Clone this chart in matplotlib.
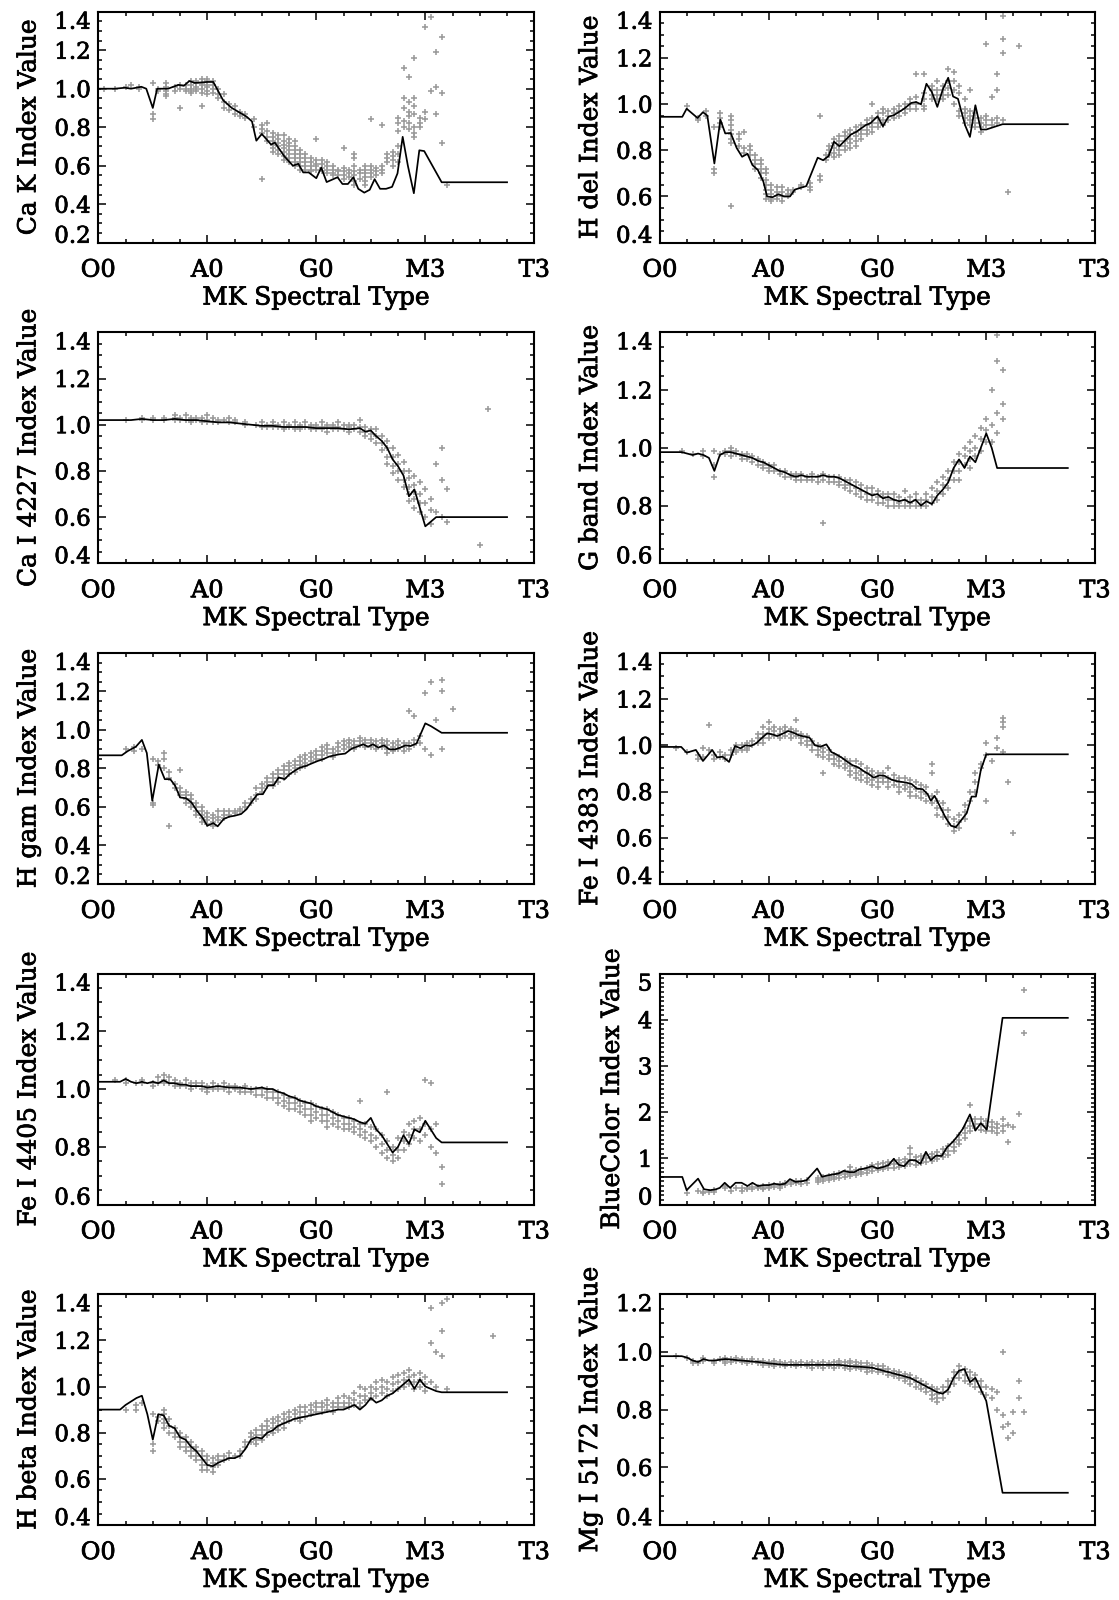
import matplotlib
matplotlib.use("Agg")
import matplotlib.pyplot as plt
import matplotlib.patheffects as pe
from matplotlib.ticker import MultipleLocator, FixedLocator

plt.rcParams['font.family'] = ['DejaVu Serif']

# ---------------- x axis (MK spectral type index) ----------------
xtick_vals = [0, 20, 40, 60, 80]
xtick_labels = ["O0", "A0", "G0", "M3", "T3"]

# ---------------- Ca K ----------------
cak_line = [(0, 1.0), (3, 1.0), (4.9, 1.005), (6, 1.0), (7.9, 1.01), (8.8, 1.0), (10, 0.90), (10.8, 1.0),
            (12.8, 1.0), (14.7, 1.02), (15.7, 1.015), (16.7, 1.04), (17.7, 1.03), (20, 1.035), (21.1, 1.035),
            (22.9, 0.94), (24.5, 0.90), (27.2, 0.855), (28.2, 0.83), (29, 0.73), (30, 0.765), (31.7, 0.71),
            (32.4, 0.72), (34.1, 0.65), (35.7, 0.60), (36.7, 0.61), (37.6, 0.565), (38.6, 0.565), (40, 0.535),
            (40.9, 0.59), (41.9, 0.515), (43.9, 0.54), (44.8, 0.505), (45.8, 0.505), (46.8, 0.54), (47.7, 0.48),
            (48.8, 0.46), (49.8, 0.475), (50.7, 0.53), (51.7, 0.48), (52.8, 0.48), (53.9, 0.49), (54.9, 0.56),
            (55.85, 0.75), (56.8, 0.60), (57.9, 0.457), (58.9, 0.68), (59.8, 0.676), (63, 0.514), (75, 0.514)]
cak_pts = {1: [1.0], 3: [1.0], 5: [1.01], 6: [1.02], 7.5: [1.01, 1.0], 10: [0.84, 0.87, 1.03],
           11: [1.0, 0.99], 12.5: [1.03, 1.01, 0.99, 0.97, 0.96], 14: [1.01, 0.99], 15: [1.02, 0.9, 1.0],
           16: [1.02, 1.0, 0.99], 17: [1.04, 1.02, 1.0, 0.99, 0.98], 18: [1.04, 1.03, 1.01, 1.0, 0.99],
           19: [1.05, 1.03, 1.02, 1.0, 0.98, 0.91], 20: [1.05, 1.04, 1.02, 1.01, 0.99, 0.97],
           21: [1.04, 1.02, 1.0, 0.98], 22: [1.0, 0.97, 0.95], 23: [0.97, 0.93, 0.9], 24: [0.92, 0.89],
           25: [0.91, 0.87], 26: [0.88, 0.86], 27: [0.87, 0.85], 28.5: [0.84, 0.8], 30: [0.81, 0.79, 0.77, 0.53],
           31: [0.82, 0.78, 0.75, 0.73], 32: [0.77, 0.75, 0.73, 0.71, 0.69, 0.67],
           33: [0.76, 0.74, 0.72, 0.7, 0.68, 0.66], 34: [0.76, 0.73, 0.71, 0.69, 0.67, 0.65, 0.63],
           35: [0.74, 0.72, 0.7, 0.68, 0.66, 0.64, 0.62], 36: [0.73, 0.7, 0.68, 0.66, 0.64, 0.62, 0.6],
           37: [0.68, 0.66, 0.64, 0.62, 0.6, 0.58], 38: [0.66, 0.64, 0.62, 0.6, 0.58],
           39: [0.64, 0.62, 0.6, 0.58, 0.57], 40: [0.74, 0.63, 0.61, 0.6, 0.58], 41: [0.63, 0.61, 0.59, 0.57],
           42: [0.62, 0.6, 0.58, 0.56], 43: [0.6, 0.58, 0.56, 0.55], 44: [0.58, 0.57, 0.55],
           45: [0.69, 0.59, 0.57, 0.55, 0.53], 46: [0.58, 0.56, 0.54], 47: [0.66, 0.64, 0.6, 0.57, 0.55, 0.52, 0.5],
           48: [0.58, 0.56, 0.53], 49: [0.6, 0.58, 0.56, 0.54, 0.52, 0.5], 50: [0.84, 0.6, 0.58, 0.56, 0.54],
           51: [0.59, 0.57, 0.55], 52: [0.81, 0.6, 0.58, 0.56], 53: [0.66, 0.64, 0.62], 54: [0.67, 0.65, 0.63, 0.6],
           55: [0.85, 0.82, 0.78, 0.7, 0.66, 0.62], 56: [1.11, 0.95, 0.9, 0.83, 0.8],
           57: [1.06, 0.93, 0.88, 0.86, 0.82, 0.79], 58: [1.16, 0.95, 0.91, 0.87, 0.8, 0.77, 0.75],
           59: [0.85, 0.82, 0.8], 60: [1.32, 0.88, 0.84], 61: [1.37, 0.99], 62: [1.19, 1.01, 0.87],
           63: [1.27, 0.98, 0.72], 64: [0.5]}
cak_yticks = [0.2, 0.4, 0.6, 0.8, 1.0, 1.2, 1.4]

# ---------------- H del ----------------
hdel_line = [(0, 0.945), (4.1, 0.945), (4.9, 0.98), (6.9, 0.94), (7.9, 0.965), (8.7, 0.95), (10, 0.743),
             (11.1, 0.933), (12, 0.873), (13, 0.875), (14.1, 0.81), (15.1, 0.772), (16.1, 0.785), (17, 0.736),
             (18, 0.715), (19, 0.665), (19.7, 0.60), (20.7, 0.597), (21.8, 0.61), (22.8, 0.60), (23.9, 0.60),
             (24.8, 0.63), (26.9, 0.645), (29, 0.768), (30, 0.757), (31, 0.775), (32, 0.837), (33, 0.818),
             (35.1, 0.868), (36.1, 0.88), (37.9, 0.91), (38.7, 0.917), (40, 0.947), (41, 0.904), (42, 0.945),
             (43, 0.952), (44.9, 0.98), (46.2, 1.005), (47.1, 1.009), (48, 0.999), (49, 1.088), (50, 1.052),
             (51, 0.988), (52, 1.063), (53, 1.114), (53.9, 1.033), (54.8, 1.023), (56.1, 0.909), (57, 0.858),
             (58, 0.995), (59, 0.89), (60, 0.89), (63, 0.913), (75, 0.913)]
hdel_pts = {5: [0.99], 7: [0.94, 0.93], 8.5: [0.97, 0.95], 10: [0.72, 0.7, 0.9], 11: [0.96, 0.94, 0.92, 0.9],
            13: [0.95, 0.93, 0.91, 0.89, 0.87, 0.85, 0.83, 0.56], 14.5: [0.87, 0.85, 0.82],
            15.5: [0.88, 0.81, 0.79], 16.5: [0.82, 0.8, 0.78], 17.5: [0.78, 0.76, 0.74, 0.72],
            18.5: [0.76, 0.74, 0.72, 0.7, 0.68], 19.5: [0.72, 0.7, 0.67, 0.65, 0.63, 0.61, 0.59],
            20.5: [0.65, 0.63, 0.61, 0.59, 0.58], 21.5: [0.64, 0.62, 0.6, 0.59], 22.5: [0.64, 0.62, 0.6, 0.58],
            23.5: [0.63, 0.61, 0.6], 24.5: [0.63, 0.62], 26: [0.65, 0.64], 27.5: [0.66, 0.64, 0.63],
            29.5: [0.69, 0.67, 0.95], 30.5: [0.78, 0.76], 31: [0.82, 0.8, 0.78], 32: [0.85, 0.83, 0.81, 0.79, 0.77],
            33: [0.86, 0.84, 0.82, 0.8, 0.78], 34: [0.88, 0.86, 0.84, 0.82, 0.8], 35: [0.89, 0.87, 0.85, 0.83, 0.81],
            36: [0.9, 0.88, 0.86, 0.84, 0.82], 37: [0.91, 0.89, 0.87, 0.85], 38: [0.93, 0.91, 0.89, 0.87],
            39: [1.0, 0.94, 0.92, 0.9, 0.88], 40: [0.96, 0.94, 0.92, 0.9], 41: [0.98, 0.96, 0.93, 0.91],
            42: [0.97, 0.95, 0.93], 43: [0.98, 0.96, 0.94], 44: [0.99, 0.97, 0.95], 45: [1.0, 0.98, 0.96],
            46: [1.02, 1.0, 0.98], 47: [1.13, 1.03, 1.0, 0.98], 48.5: [1.13, 1.05, 1.02, 0.99, 0.98],
            50: [1.08, 1.06, 1.04, 1.02], 51: [1.1, 1.06, 1.04, 1.02], 52: [1.08, 1.06, 1.04, 1.02],
            53: [1.15, 1.1, 1.07, 1.04], 54: [1.14, 1.1, 1.06, 1.0], 55: [1.08, 1.05, 0.97, 0.95],
            56: [1.02, 0.98, 0.96, 0.94, 0.92], 57: [1.06, 0.97, 0.95, 0.93, 0.91], 58: [0.96, 0.94, 0.92, 0.9],
            59: [0.94, 0.92, 0.9, 0.88], 60: [1.26, 0.95, 0.93, 0.91], 61: [1.03, 0.93, 0.91],
            62: [1.13, 1.06, 0.94, 0.92], 63: [1.38, 1.28, 1.22, 0.93], 64: [0.62], 66: [1.25]}
hdel_yticks = [0.4, 0.6, 0.8, 1.0, 1.2, 1.4]

# ---------------- Ca I 4227 ----------------
ca1_line = [(0, 1.02), (4, 1.02), (6, 1.02), (8, 1.025), (10, 1.02), (12, 1.02), (14, 1.025), (16, 1.02),
            (18, 1.02), (20, 1.015), (22, 1.01), (24, 1.01), (26, 1.005), (28, 1.0), (30, 0.995), (32, 0.995),
            (34, 0.99), (36, 0.99), (38, 0.99), (40, 0.985), (42, 0.985), (44, 0.985), (46, 0.98), (48, 0.985),
            (49, 0.97), (50, 0.975), (51, 0.95), (52, 0.93), (53, 0.9), (54, 0.85), (55, 0.82), (56, 0.78),
            (57, 0.69), (58, 0.72), (59, 0.64), (60, 0.56), (61, 0.58), (62, 0.6), (63, 0.6), (75, 0.6)]
ca1_pts = {5: [1.02], 8: [1.02, 1.03], 10: [1.03, 1.02], 12: [1.03, 1.02], 14: [1.04, 1.03, 1.02],
           15: [1.03, 1.02], 16: [1.04, 1.02], 17: [1.03, 1.02, 1.01], 18: [1.03, 1.02], 19: [1.03, 1.01],
           20: [1.04, 1.02, 1.01], 21: [1.03, 1.01], 22: [1.02, 1.01], 23: [1.02], 24: [1.03, 1.01],
           25: [1.02, 1.01], 27: [1.01, 1.0], 29: [1.0], 30: [1.01, 0.99], 31: [1.0, 0.99], 32: [1.01, 1.0, 0.99],
           33: [1.0, 0.99], 34: [1.01, 0.99, 0.98], 35: [1.0, 0.99], 36: [1.01, 0.99, 0.98], 37: [1.0, 0.99, 0.98],
           38: [1.01, 0.99], 39: [1.0, 0.99, 0.98], 40: [1.0, 0.99, 0.98], 41: [1.01, 0.99, 0.98],
           42: [1.0, 0.99, 0.97], 43: [1.0, 0.99, 0.98], 44: [1.01, 0.99, 0.98], 45: [1.0, 0.98],
           46: [1.0, 0.99, 0.97], 47: [1.0, 0.98], 48: [1.02, 0.99, 0.97], 49: [0.99, 0.97, 0.95],
           50: [0.98, 0.96, 0.94], 51: [0.98, 0.95, 0.92], 52: [0.95, 0.92, 0.89], 53: [0.93, 0.9, 0.86, 0.83],
           54: [0.9, 0.86, 0.82, 0.79], 55: [0.87, 0.83, 0.8, 0.76], 56: [0.84, 0.8, 0.76, 0.73],
           57: [0.8, 0.77, 0.73, 0.7, 0.67], 58: [0.78, 0.74, 0.71, 0.68, 0.64], 59: [0.75, 0.7, 0.66, 0.62],
           60: [0.72, 0.66, 0.6], 61: [0.68, 0.63, 0.57], 62: [0.83, 0.62], 63: [0.9, 0.76, 0.6],
           64: [0.72, 0.58], 70: [0.48], 71.5: [1.07]}
ca1_yticks = [0.4, 0.6, 0.8, 1.0, 1.2, 1.4]

# ---------------- G band ----------------
gband_line = [(0, 0.985), (4, 0.985), (5, 0.98), (6, 0.975), (7, 0.98), (8, 0.975), (9, 0.965), (10, 0.92),
              (11, 0.975), (12, 0.985), (13, 0.985), (14, 0.98), (15, 0.975), (16, 0.97), (17, 0.965),
              (18, 0.955), (19, 0.95), (20, 0.94), (21, 0.93), (22, 0.92), (23, 0.915), (24, 0.905), (25, 0.9),
              (26, 0.905), (27, 0.9), (28, 0.9), (29, 0.9), (30, 0.905), (31, 0.9), (32, 0.9), (33, 0.895),
              (34, 0.885), (35, 0.875), (36, 0.865), (37, 0.855), (38, 0.845), (39, 0.835), (40, 0.84),
              (41, 0.825), (42, 0.83), (43, 0.82), (44, 0.815), (45, 0.82), (46, 0.81), (47, 0.82), (48, 0.8),
              (49, 0.815), (50, 0.805), (51, 0.835), (52, 0.855), (53, 0.88), (54, 0.93), (55, 0.96), (56, 0.93),
              (57, 0.97), (58, 0.95), (59, 1.0), (60, 1.05), (61, 1.0), (62, 0.93), (63, 0.93), (75, 0.93)]
gband_pts = {4: [0.99], 6: [0.98], 8: [0.99, 0.97], 10: [0.9, 0.94, 0.99], 11: [0.98], 12: [0.98, 0.99],
             13: [1.0, 0.99, 0.97], 14: [0.99, 0.98], 15: [0.98, 0.97, 0.96], 16: [0.98, 0.96], 17: [0.97, 0.95],
             18: [0.96, 0.94], 19: [0.95, 0.94, 0.93], 20: [0.94, 0.93, 0.92], 21: [0.94, 0.92], 22: [0.92, 0.91],
             23: [0.92, 0.9], 24: [0.91, 0.9], 25: [0.91, 0.9, 0.89], 26: [0.91, 0.89], 27: [0.9, 0.89],
             28: [0.91, 0.89], 29: [0.9, 0.88], 30: [0.91, 0.89, 0.74], 31: [0.9, 0.88], 32: [0.9, 0.88],
             33: [0.9, 0.88, 0.87], 34: [0.89, 0.87, 0.86], 35: [0.89, 0.87, 0.85], 36: [0.88, 0.86, 0.84],
             37: [0.87, 0.85, 0.83], 38: [0.86, 0.84, 0.82], 39: [0.86, 0.84, 0.82], 40: [0.85, 0.83, 0.81],
             41: [0.84, 0.83, 0.81], 42: [0.84, 0.82, 0.8], 43: [0.84, 0.82, 0.8], 44: [0.83, 0.81, 0.8],
             45: [0.85, 0.82, 0.8], 46: [0.83, 0.81, 0.8], 47: [0.84, 0.82, 0.8], 48: [0.82, 0.8],
             49: [0.84, 0.82, 0.8], 50: [0.86, 0.83, 0.81], 51: [0.88, 0.85, 0.82], 52: [0.9, 0.87, 0.84],
             53: [0.92, 0.89, 0.86], 54: [0.95, 0.92, 0.89], 55: [0.98, 0.95, 0.92, 0.89], 56: [1.0, 0.97, 0.94],
             57: [1.02, 0.99, 0.96, 0.93], 58: [1.04, 1.0, 0.97], 59: [1.07, 1.03, 0.99], 60: [1.1, 1.06, 1.02],
             61: [1.2, 1.08, 1.02], 62: [1.39, 1.3, 1.12, 1.05], 63: [1.27, 1.15, 1.1]}
gband_yticks = [0.6, 0.8, 1.0, 1.2, 1.4]

# ---------------- H gam ----------------
hgam_line = [(0, 0.868), (4.3, 0.868), (5.4, 0.89), (6.9, 0.913), (8, 0.948), (8.9, 0.88), (9.9, 0.632),
             (11.1, 0.82), (12.2, 0.744), (13.2, 0.744), (14.1, 0.71), (15, 0.649), (16.1, 0.645), (17.1, 0.623),
             (18.1, 0.58), (19.1, 0.545), (20, 0.502), (21.1, 0.516), (21.9, 0.499), (23, 0.537), (24, 0.549),
             (25, 0.554), (26.2, 0.563), (27.2, 0.588), (28.3, 0.632), (29.2, 0.666), (30.2, 0.666), (31.2, 0.713),
             (32.2, 0.713), (33.1, 0.753), (34.2, 0.744), (35.1, 0.77), (36, 0.787), (37, 0.804), (38.1, 0.813),
             (39.1, 0.825), (40.3, 0.839), (41.2, 0.847), (42.3, 0.861), (43.3, 0.868), (44.2, 0.873),
             (45.3, 0.877), (46.5, 0.903), (47.5, 0.913), (48.6, 0.925), (49.5, 0.913), (50.4, 0.925),
             (51.4, 0.908), (52.4, 0.92), (53.4, 0.899), (54.5, 0.899), (55.4, 0.908), (56.4, 0.92),
             (57.3, 0.916), (58.4, 0.93), (60, 1.034), (61, 1.02), (63, 0.985), (75, 0.985)]
hgam_pts = {5: [0.9], 6.5: [0.91, 0.89], 8: [0.9], 10: [0.61, 0.62, 0.85], 11: [0.84, 0.82], 12: [0.88, 0.85, 0.8],
            13: [0.78, 0.75, 0.5], 14: [0.72, 0.7], 15: [0.79, 0.7, 0.68, 0.66], 16: [0.68, 0.66, 0.64, 0.62],
            17: [0.66, 0.64, 0.62, 0.6], 18: [0.62, 0.6, 0.58, 0.56], 19: [0.6, 0.58, 0.56, 0.54, 0.52],
            20: [0.57, 0.55, 0.53, 0.51], 21: [0.56, 0.54, 0.52, 0.5], 22: [0.58, 0.55, 0.53], 23: [0.58, 0.56, 0.54],
            24: [0.58, 0.56], 25: [0.58, 0.57], 26: [0.59, 0.58], 27: [0.62, 0.6], 28: [0.64, 0.62],
            29: [0.7, 0.66, 0.64], 30: [0.72, 0.7, 0.68], 31: [0.75, 0.73, 0.71], 32: [0.77, 0.75, 0.73, 0.71],
            33: [0.79, 0.77, 0.75, 0.73], 34: [0.81, 0.79, 0.77, 0.75], 35: [0.83, 0.81, 0.79, 0.77],
            36: [0.84, 0.82, 0.8, 0.78], 37: [0.86, 0.84, 0.82, 0.8], 38: [0.87, 0.85, 0.83, 0.81],
            39: [0.88, 0.86, 0.84], 40: [0.89, 0.87, 0.85], 41: [0.91, 0.89, 0.87, 0.85], 42: [0.92, 0.9, 0.88],
            43: [0.9, 0.88, 0.86], 44: [0.93, 0.91, 0.89], 45: [0.94, 0.92, 0.9], 46: [0.95, 0.93, 0.91],
            47: [0.94, 0.92, 0.9], 48: [0.96, 0.94, 0.92], 49: [0.95, 0.93, 0.91], 50: [0.95, 0.93, 0.91],
            51: [0.94, 0.92, 0.9], 52: [0.95, 0.93, 0.91], 53: [0.94, 0.92, 0.9, 0.88], 54: [0.93, 0.91, 0.89],
            55: [0.94, 0.92, 0.9], 56: [0.93, 0.91, 0.89], 57: [1.1, 0.93, 0.9], 58: [1.07, 0.95, 0.92],
            59: [0.97, 0.93], 60: [1.19, 0.9], 61: [1.25, 0.87], 62: [1.05], 63: [1.26, 1.2, 0.9], 65: [1.11]}
hgam_yticks = [0.2, 0.4, 0.6, 0.8, 1.0, 1.2, 1.4]

# ---------------- Fe I 4383 ----------------
fe4383_line = [(0, 0.993), (3.9, 0.993), (4.9, 0.968), (6.6, 0.98), (7.9, 0.932), (9.6, 0.98), (10.5, 0.947),
               (11.5, 0.951), (12.7, 0.928), (13.8, 0.997), (14.8, 0.987), (15.7, 1.0), (16.7, 0.997),
               (17.7, 1.009), (18.8, 1.033), (19.7, 1.052), (20.7, 1.047), (21.6, 1.04), (22.7, 1.052),
               (23.6, 1.062), (24.5, 1.055), (25.6, 1.043), (27.5, 1.033), (28.5, 1.0), (29.5, 0.994),
               (30.6, 1.004), (31.5, 0.971), (32.4, 0.961), (33.4, 0.947), (34.5, 0.928), (35.4, 0.914),
               (36.5, 0.904), (37.4, 0.889), (38.4, 0.875), (39.3, 0.86), (40.4, 0.87), (41.3, 0.868),
               (42.4, 0.853), (43.3, 0.846), (44.3, 0.842), (45.2, 0.839), (46.3, 0.832), (47.2, 0.813),
               (48.3, 0.81), (49.2, 0.789), (49.8, 0.76), (50.5, 0.781), (51.5, 0.735), (52.5, 0.688),
               (53.5, 0.652), (54.4, 0.645), (55.3, 0.673), (56.4, 0.706), (57.3, 0.778), (58.1, 0.778),
               (59, 0.893), (60, 0.961), (75, 0.961)]
fe4383_pts = {3: [0.99], 5: [0.97], 7: [0.96, 0.94], 8: [0.99, 0.95], 9: [1.09, 0.98], 10: [0.96, 0.94],
              11: [0.97, 0.95], 12: [0.96, 0.94], 13: [0.98, 0.96], 14: [1.0, 0.98, 0.97], 15: [1.0, 0.98],
              16: [1.01, 0.99, 0.98], 17: [1.02, 1.0], 18: [1.05, 1.03, 1.01], 19: [1.08, 1.05, 1.03, 1.01],
              20: [1.1, 1.07, 1.05, 1.03], 21: [1.08, 1.06, 1.04], 22: [1.07, 1.05, 1.03], 23: [1.08, 1.06, 1.04],
              24: [1.07, 1.05, 1.03], 25: [1.11, 1.06, 1.04], 26: [1.05, 1.03, 1.01], 27: [1.04, 1.02, 1.0],
              28: [1.02, 1.0, 0.98], 29: [1.0, 0.98, 0.96], 30: [0.99, 0.97, 0.95, 0.88], 31: [0.98, 0.96, 0.94],
              32: [0.96, 0.94, 0.92], 33: [0.95, 0.93, 0.91], 34: [0.94, 0.92, 0.9], 35: [0.93, 0.91, 0.89, 0.87],
              36: [0.93, 0.9, 0.88, 0.86], 37: [0.92, 0.89, 0.87, 0.85], 38: [0.9, 0.88, 0.86, 0.84],
              39: [0.89, 0.87, 0.85, 0.83], 40: [0.88, 0.86, 0.84, 0.82], 41: [0.88, 0.86, 0.84],
              42: [0.9, 0.86, 0.84, 0.82], 43: [0.87, 0.85, 0.83], 44: [0.86, 0.84, 0.82, 0.8], 45: [0.86, 0.83, 0.81],
              46: [0.85, 0.82, 0.8, 0.78], 47: [0.84, 0.81, 0.78], 48: [0.83, 0.8, 0.77], 49: [0.82, 0.79, 0.76],
              50: [0.92, 0.88, 0.78, 0.75], 51: [0.8, 0.76, 0.73, 0.7], 52: [0.75, 0.72, 0.69], 53: [0.72, 0.69, 0.66],
              54: [0.68, 0.65, 0.63], 55: [0.7, 0.67, 0.64], 56: [0.74, 0.71, 0.68], 57: [0.8, 0.76],
              58: [0.88, 0.84, 0.8], 59: [0.92, 0.9], 60: [1.01, 0.96, 0.76], 61: [0.93], 62: [1.03, 0.99],
              63: [1.12, 1.1, 1.08, 0.97], 64: [0.84], 65: [0.62]}
fe4383_yticks = [0.4, 0.6, 0.8, 1.0, 1.2, 1.4]

# ---------------- Fe I 4405 ----------------
fe4405_line = [(0, 1.025), (4, 1.025), (5, 1.035), (6, 1.025), (7, 1.02), (8, 1.025), (9, 1.02), (10, 1.025),
               (11, 1.02), (12, 1.03), (13, 1.02), (14, 1.02), (15, 1.015), (16, 1.015), (17, 1.01), (18, 1.01),
               (19, 1.01), (20, 1.005), (22, 1.01), (24, 1.005), (26, 1.005), (28, 1.0), (30, 1.005), (31, 1.0),
               (32, 1.0), (33, 0.99), (34, 0.985), (35, 0.975), (36, 0.97), (37, 0.96), (38, 0.955), (39, 0.95),
               (40, 0.94), (41, 0.935), (42, 0.93), (43, 0.92), (44, 0.91), (45, 0.905), (46, 0.9), (47, 0.895),
               (48, 0.885), (49, 0.88), (50, 0.9), (51, 0.86), (52, 0.84), (53, 0.81), (54, 0.78), (55, 0.8),
               (56, 0.84), (57, 0.81), (58, 0.86), (59, 0.85), (60, 0.89), (61, 0.86), (62, 0.83), (63, 0.815),
               (75, 0.815)]
fe4405_pts = {3: [1.03], 5: [1.03, 1.02], 7: [1.02], 8: [1.03, 1.02], 10: [1.02, 1.01], 11: [1.04, 1.02],
              12: [1.05, 1.03, 1.02], 13: [1.04, 1.02], 14: [1.03, 1.02, 1.01], 15: [1.02, 1.01], 16: [1.03, 1.01],
              17: [1.02, 1.01, 1.0], 18: [1.02, 1.01], 19: [1.02, 1.0], 20: [1.01, 1.0, 0.99], 21: [1.02, 1.0],
              22: [1.01, 1.0], 23: [1.02, 1.0], 24: [1.01, 0.99], 25: [1.01, 1.0], 26: [1.0, 0.99], 27: [1.01, 0.99],
              28: [1.0, 0.99], 29: [1.0, 0.98], 30: [1.0, 0.98], 31: [1.0, 0.99, 0.97], 32: [0.99, 0.97],
              33: [0.99, 0.97, 0.95], 34: [0.98, 0.96, 0.94], 35: [0.97, 0.95, 0.93], 36: [0.97, 0.95, 0.93],
              37: [0.96, 0.94, 0.92], 38: [0.95, 0.93, 0.91], 39: [0.95, 0.93, 0.91, 0.89], 40: [0.94, 0.92, 0.9],
              41: [0.93, 0.91, 0.89], 42: [0.93, 0.91, 0.89, 0.87], 43: [0.92, 0.9, 0.88], 44: [0.91, 0.89, 0.87],
              45: [0.9, 0.88, 0.86], 46: [0.9, 0.88, 0.86], 47: [0.89, 0.87, 0.85], 48: [0.96, 0.88, 0.86, 0.84],
              49: [0.88, 0.85, 0.83], 50: [0.87, 0.84, 0.82], 51: [0.86, 0.83, 0.8], 52: [0.84, 0.81, 0.78],
              53: [0.99, 0.82, 0.79, 0.76], 54: [0.8, 0.77, 0.75], 55: [0.83, 0.79, 0.76], 56: [0.85, 0.82, 0.79],
              57: [0.88, 0.84, 0.81], 58: [0.89, 0.86, 0.83], 59: [0.9, 0.86, 0.82], 60: [1.03, 0.88, 0.84],
              61: [1.02, 0.86, 0.8], 62: [0.88, 0.78], 63: [0.73, 0.67]}
fe4405_yticks = [0.6, 0.8, 1.0, 1.2, 1.4]

# ---------------- BlueColor ----------------
blue_line = [(0, 0.596), (4.1, 0.596), (4.9, 0.31), (7, 0.56), (8.1, 0.33), (9.2, 0.31), (10.3, 0.33), (11, 0.36),
             (11.9, 0.47), (12.9, 0.36), (13.9, 0.47), (15, 0.47), (16.1, 0.4), (17, 0.47), (18, 0.4), (19, 0.42),
             (20, 0.42), (21, 0.45), (22, 0.43), (23, 0.45), (23.9, 0.55), (24.9, 0.49), (25.9, 0.5), (26.9, 0.52),
             (28.9, 0.78), (29.8, 0.6), (30.8, 0.63), (31.8, 0.65), (32.8, 0.67), (33.8, 0.73), (34.8, 0.7),
             (35.7, 0.7), (36.7, 0.76), (37.7, 0.78), (39, 0.83), (40, 0.78), (41, 0.81), (42, 0.85), (43, 0.99),
             (43.9, 0.86), (44.9, 0.83), (45.9, 0.96), (46.9, 0.96), (47.9, 0.88), (48.9, 1.14), (49.8, 0.96),
             (50.8, 1.06), (51.8, 1.05), (52.8, 1.24), (53.8, 1.35), (54.8, 1.49), (55.7, 1.64), (57, 1.95),
             (58, 1.6), (59, 1.76), (60.1, 1.62), (63, 4.04), (75, 4.04)]
blue_pts = {5: [0.25], 7: [0.3], 8: [0.28, 0.25], 9: [0.26], 10: [0.28, 0.32], 12: [0.35, 0.4], 13: [0.3],
            14: [0.35], 15: [0.35, 0.3], 16: [0.36, 0.33], 17: [0.38, 0.34], 18: [0.38, 0.35], 19: [0.4, 0.36, 0.33],
            20: [0.42, 0.38, 0.35], 21: [0.42, 0.38], 22: [0.44, 0.4, 0.36], 23: [0.46, 0.42], 24: [0.48, 0.44],
            25: [0.5, 0.46], 26: [0.5, 0.45], 27: [0.52, 0.47], 29: [0.58, 0.52, 0.48], 30: [0.6, 0.55, 0.5],
            31: [0.62, 0.57, 0.52], 32: [0.66, 0.6, 0.55], 33: [0.68, 0.63, 0.58], 34: [0.7, 0.65, 0.6],
            35: [0.82, 0.72, 0.67, 0.62], 36: [0.74, 0.69, 0.64], 37: [0.77, 0.71, 0.66], 38: [0.8, 0.74, 0.68],
            39: [0.85, 0.78, 0.72], 40: [0.88, 0.8, 0.74], 41: [0.9, 0.82, 0.76], 42: [0.92, 0.85, 0.78],
            43: [0.94, 0.87, 0.8], 44: [0.96, 0.89, 0.82], 45: [0.99, 0.91, 0.84], 46: [1.22, 1.1, 0.96, 0.88],
            47: [1.02, 0.95, 0.86], 48: [1.05, 0.97, 0.9], 49: [1.08, 1.0, 0.92], 50: [1.1, 1.02, 0.95],
            51: [1.14, 1.06, 0.98], 52: [1.2, 1.1, 1.02], 53: [1.26, 1.16, 1.08], 54: [1.35, 1.25, 1.15],
            55: [1.5, 1.4, 1.3], 56: [1.65, 1.55, 1.45], 57: [2.16, 1.8, 1.7, 1.6], 58: [1.85, 1.75, 1.65],
            59: [1.85, 1.75, 1.62], 60: [1.8, 1.7, 1.6], 61: [1.78, 1.68, 1.6], 62: [1.75, 1.65, 1.55],
            63: [1.85, 1.7, 1.6], 64: [1.35, 1.72], 65: [1.68], 66: [1.96], 67: [4.64, 3.72]}
blue_yticks = [0, 1, 2, 3, 4, 5]

# ---------------- H beta ----------------
hbeta_line = [(0, 0.9), (4, 0.9), (5, 0.92), (6, 0.935), (7, 0.95), (8, 0.96), (9, 0.88), (10, 0.77), (11, 0.88),
              (12, 0.875), (13, 0.83), (14, 0.82), (15, 0.78), (16, 0.77), (17, 0.74), (18, 0.72), (19, 0.69),
              (20, 0.66), (21, 0.655), (22, 0.67), (23, 0.68), (24, 0.69), (25, 0.69), (26, 0.7), (27, 0.73),
              (28, 0.77), (29, 0.78), (30, 0.775), (31, 0.8), (32, 0.81), (33, 0.83), (34, 0.84), (35, 0.85),
              (36, 0.86), (37, 0.865), (38, 0.87), (39, 0.875), (40, 0.88), (41, 0.885), (42, 0.89), (43, 0.895),
              (44, 0.9), (45, 0.9), (46, 0.91), (47, 0.92), (48, 0.9), (49, 0.92), (50, 0.95), (51, 0.93),
              (52, 0.94), (53, 0.96), (54, 0.97), (55, 0.99), (56, 1.01), (57, 1.03), (58, 0.99), (59, 1.03),
              (60, 1.0), (61, 0.99), (62, 0.98), (63, 0.975), (75, 0.975)]
hbeta_pts = {5: [0.9], 7: [0.92, 0.9], 8: [0.93], 10: [0.72, 0.75, 0.88], 11: [0.87, 0.85],
             12: [0.9, 0.88, 0.86, 0.84, 0.82], 13: [0.86, 0.83, 0.8], 14: [0.82, 0.8, 0.78],
             15: [0.8, 0.78, 0.76, 0.74], 16: [0.78, 0.76, 0.74, 0.72], 17: [0.76, 0.74, 0.72, 0.7],
             18: [0.74, 0.72, 0.7, 0.68], 19: [0.72, 0.7, 0.68, 0.66, 0.64], 20: [0.7, 0.68, 0.66, 0.64],
             21: [0.69, 0.67, 0.65, 0.63], 22: [0.7, 0.68, 0.66], 23: [0.7, 0.68], 24: [0.71, 0.69], 25: [0.7],
             26: [0.72, 0.7], 27: [0.76, 0.74], 28: [0.8, 0.78, 0.76], 29: [0.81, 0.79, 0.77, 0.75],
             30: [0.83, 0.81, 0.79, 0.77], 31: [0.85, 0.83, 0.81, 0.79], 32: [0.86, 0.84, 0.82, 0.8],
             33: [0.87, 0.85, 0.83, 0.81], 34: [0.88, 0.86, 0.84, 0.82], 35: [0.89, 0.87, 0.85], 36: [0.9, 0.88, 0.86],
             37: [0.91, 0.89, 0.87, 0.85], 38: [0.91, 0.89, 0.87], 39: [0.92, 0.9, 0.88], 40: [0.93, 0.91, 0.89],
             41: [0.93, 0.91, 0.89], 42: [0.94, 0.92, 0.9], 43: [0.93, 0.91, 0.89], 44: [0.95, 0.93, 0.91],
             45: [0.96, 0.93, 0.91], 46: [0.95, 0.93, 0.91], 47: [0.97, 0.94, 0.92], 48: [1.0, 0.96, 0.93, 0.91],
             49: [0.99, 0.96, 0.94], 50: [1.0, 0.97, 0.95], 51: [1.02, 0.99, 0.96], 52: [1.03, 1.0, 0.97],
             53: [1.02, 0.99, 0.96], 54: [1.04, 1.01, 0.98], 55: [1.05, 1.02, 0.99], 56: [1.06, 1.03, 1.0],
             57: [1.07, 1.04, 1.01], 58: [1.05, 1.02, 0.99], 59: [1.06, 1.03, 1.0], 60: [1.04, 1.01, 0.98],
             61: [1.34, 1.19, 1.02], 62: [1.15, 1.0], 63: [1.36, 1.24, 1.13], 64: [1.38, 0.99], 72.5: [1.22]}
hbeta_yticks = [0.4, 0.6, 0.8, 1.0, 1.2, 1.4]

# ---------------- Mg I 5172 ----------------
mg_line = [(0, 0.985), (4, 0.985), (5, 0.98), (6, 0.97), (7, 0.965), (8, 0.975), (9, 0.97), (10, 0.97),
           (12, 0.975), (15, 0.97), (18, 0.965), (20, 0.96), (23, 0.955), (25, 0.955), (28, 0.955), (30, 0.955),
           (33, 0.955), (35, 0.95), (37, 0.948), (39, 0.945), (40, 0.94), (41, 0.935), (42, 0.93), (43, 0.925),
           (44, 0.92), (45, 0.915), (46, 0.91), (47, 0.9), (48, 0.89), (49, 0.88), (50, 0.87), (51, 0.86),
           (52, 0.855), (53, 0.87), (54, 0.91), (55, 0.935), (56, 0.94), (57, 0.895), (58, 0.91), (59, 0.87),
           (60, 0.83), (63, 0.512), (75, 0.512)]
mg_pts = {3: [0.985], 5: [0.98], 6: [0.97, 0.96], 7: [0.96], 8: [0.98, 0.97], 10: [0.97, 0.96], 11: [0.975],
          12: [0.98, 0.97, 0.96], 13: [0.975, 0.965], 14: [0.98, 0.97], 15: [0.975, 0.965], 16: [0.97, 0.96],
          17: [0.975, 0.965], 18: [0.97, 0.96], 19: [0.97, 0.955], 20: [0.965, 0.955], 21: [0.97, 0.96, 0.95],
          22: [0.965, 0.955], 23: [0.96, 0.95], 24: [0.965, 0.955], 25: [0.96, 0.95], 26: [0.965, 0.955],
          27: [0.96, 0.95], 28: [0.965, 0.955, 0.945], 29: [0.96, 0.95], 30: [0.965, 0.955, 0.945],
          31: [0.96, 0.95], 32: [0.965, 0.955, 0.945], 33: [0.97, 0.96, 0.95], 34: [0.965, 0.955, 0.945],
          35: [0.97, 0.96, 0.95, 0.94], 36: [0.965, 0.955, 0.945], 37: [0.96, 0.95, 0.94],
          38: [0.96, 0.95, 0.94, 0.93], 39: [0.955, 0.945, 0.935], 40: [0.95, 0.94, 0.93], 41: [0.95, 0.94, 0.93],
          42: [0.94, 0.93, 0.92], 43: [0.935, 0.925, 0.915], 44: [0.93, 0.92, 0.91], 45: [0.925, 0.91, 0.9],
          46: [0.92, 0.905, 0.89], 47: [0.91, 0.895, 0.88], 48: [0.9, 0.885, 0.87], 49: [0.89, 0.875, 0.86],
          50: [0.88, 0.865, 0.85, 0.835], 51: [0.87, 0.855, 0.84, 0.825], 52: [0.88, 0.86, 0.84],
          53: [0.9, 0.88, 0.86], 54: [0.93, 0.91, 0.89], 55: [0.95, 0.93, 0.91], 56: [0.94, 0.92, 0.9],
          57: [0.93, 0.91, 0.89], 58: [0.92, 0.9, 0.88], 59: [0.9, 0.88, 0.86], 60: [0.88, 0.85], 61: [0.87, 0.84],
          62: [0.86, 0.8], 63: [1.0, 0.78, 0.74], 64: [0.75, 0.7], 65: [0.72, 0.79], 66: [0.84, 0.9], 67: [0.79]}
mg_yticks = [0.4, 0.6, 0.8, 1.0, 1.2]

panels = [
    ("Ca K Index Value", cak_line, cak_pts, cak_yticks, 0.05),
    ("H del Index Value", hdel_line, hdel_pts, hdel_yticks, 0.05),
    ("Ca I 4227 Index Value", ca1_line, ca1_pts, ca1_yticks, 0.05),
    ("G band Index Value", gband_line, gband_pts, gband_yticks, 0.05),
    ("H gam Index Value", hgam_line, hgam_pts, hgam_yticks, 0.05),
    ("Fe I 4383 Index Value", fe4383_line, fe4383_pts, fe4383_yticks, 0.05),
    ("Fe I 4405 Index Value", fe4405_line, fe4405_pts, fe4405_yticks, 0.05),
    ("BlueColor Index Value", blue_line, blue_pts, blue_yticks, 0.1),
    ("H beta Index Value", hbeta_line, hbeta_pts, hbeta_yticks, 0.05),
    ("Mg I 5172 Index Value", mg_line, mg_pts, mg_yticks, 0.05),
]

W, H = 1119, 1600
fig = plt.figure(figsize=(W / 100, H / 100), dpi=100)
FS_Y = 16.5
FS_X = 17.3
FS_LAB = 17.9
bold = [pe.withStroke(linewidth=0.55, foreground='black')]
col_left = [98.3, 660.0]
col_width = [436.0, 435.0]
row_top0, row_step, ax_h = 11.7, 320.6, 231.0

for i, (ylab, line, pts, yticks, minor) in enumerate(panels):
    r, c = divmod(i, 2)
    top = row_top0 + r * row_step
    ax = fig.add_axes([col_left[c] / W, 1 - (top + ax_h) / H, col_width[c] / W, ax_h / H])
    sx, sy = [], []
    for xv, ys in pts.items():
        for yv in ys:
            sx.append(xv)
            sy.append(yv)
    ax.plot(sx, sy, linestyle='none', marker='+', markersize=5.0, markeredgewidth=1.15,
            color='#9a9a9a', zorder=2)
    lx = [p[0] for p in line]
    ly = [p[1] for p in line]
    ax.plot(lx, ly, color='black', linewidth=1.25, zorder=3)

    ax.set_xlim(0, 80)
    ax.set_ylim(yticks[0], yticks[-1])
    ax.xaxis.set_major_locator(FixedLocator(xtick_vals))
    ax.set_xticklabels(xtick_labels)
    ax.xaxis.set_minor_locator(MultipleLocator(5))
    ax.yaxis.set_major_locator(FixedLocator(yticks))
    if isinstance(yticks[0], int):
        ax.set_yticklabels([str(v) for v in yticks])
    else:
        ax.set_yticklabels(["%.1f" % v for v in yticks])
    ax.yaxis.set_minor_locator(MultipleLocator(minor))
    ax.tick_params(which='both', direction='in', top=True, right=True, width=1.1)
    ax.tick_params(which='major', length=5.8)
    ax.tick_params(which='minor', length=2.9)
    ax.tick_params(axis='x', which='major', pad=11.5, labelsize=FS_X)
    ax.tick_params(axis='y', which='major', pad=5.5, labelsize=FS_Y)
    for s in ax.spines.values():
        s.set_linewidth(1.5)
    yt = ax.yaxis.get_major_ticks()
    yt[0].label1.set_verticalalignment('baseline')
    yt[-1].label1.set_verticalalignment('top')
    for t in ax.get_xticklabels() + ax.get_yticklabels():
        t.set_path_effects(bold)
    xl = ax.set_xlabel("MK Spectral Type", fontsize=FS_LAB, labelpad=3.5)
    yl = ax.set_ylabel(ylab, fontsize=FS_LAB, labelpad=10)
    xl.set_path_effects(bold)
    yl.set_path_effects(bold)

fig.savefig("out.png", dpi=100)
